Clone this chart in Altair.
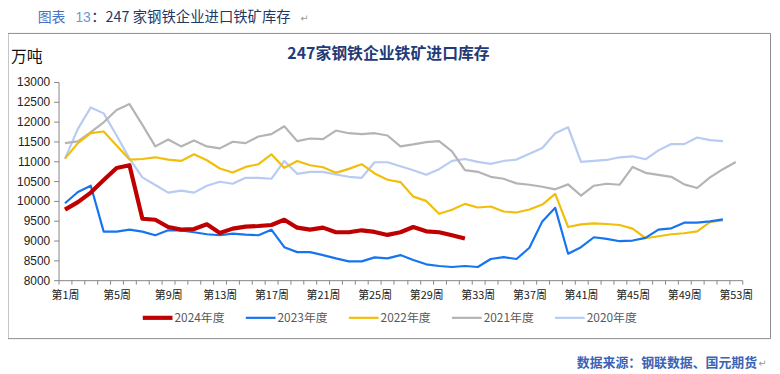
import altair as alt
import pandas as pd

weeks = [f"第{i}周" for i in range(1, 54)]

s2024 = [9780, 9970, 10210, 10525, 10830, 10900, 9550, 9525, 9340, 9275,
         9290, 9410, 9190, 9300, 9350, 9367, 9392, 9525, 9325, 9275,
         9325, 9208, 9208, 9258, 9217, 9142, 9208, 9342, 9233, 9208,
         9133, 9050]

s2023 = [9942, 10225, 10383, 9225, 9225, 9275, 9225, 9133, 9258, 9258,
         9208, 9158, 9133, 9175, 9150, 9133, 9275, 8833, 8708, 8708,
         8633, 8550, 8475, 8475, 8575, 8550, 8633, 8508, 8400, 8358,
         8333, 8358, 8333, 8533, 8583, 8533, 8817, 9483, 9825, 8667,
         8833, 9083, 9042, 8983, 9000, 9067, 9275, 9308, 9450, 9450,
         9483, 9533]

s2022 = [11067, 11458, 11708, 11750, 11400, 11042, 11058, 11100, 11042, 11008,
         11175, 11025, 10817, 10717, 10858, 10925, 11175, 10833, 11008, 10900,
         10850, 10708, 10808, 10925, 10692, 10533, 10475, 10108, 10000, 9675,
         9775, 9925, 9833, 9858, 9733, 9708, 9783, 9908, 10175, 9342,
         9408, 9433, 9417, 9392, 9300, 9058, 9108, 9158, 9183, 9233,
         9467, 9508]

s2021 = [11458, 11500, 11733, 11983, 12292, 12442, 11917, 11375, 11550, 11375,
         11525, 11375, 11325, 11492, 11458, 11625, 11683, 11883, 11508, 11575,
         11558, 11775, 11708, 11683, 11708, 11650, 11375, 11425, 11483, 11508,
         11250, 10775, 10733, 10608, 10558, 10442, 10408, 10358, 10292, 10417,
         10133, 10383, 10433, 10408, 10858, 10708, 10658, 10608, 10417, 10325,
         10592, 10800, 10983]

s2020 = [11067, 11817, 12358, 12208, 11650, 11067, 10592, 10400, 10208, 10258,
         10208, 10383, 10483, 10433, 10583, 10583, 10558, 11008, 10683, 10733,
         10733, 10667, 10608, 10583, 10975, 10975, 10875, 10775, 10658, 10800,
         11008, 11058, 10983, 10933, 11008, 11042, 11192, 11333, 11708, 11858,
         10983, 11008, 11033, 11100, 11125, 11050, 11275, 11433, 11433, 11600,
         11533, 11508]

names = ["2024年度", "2023年度", "2022年度", "2021年度", "2020年度"]
series_values = [s2024, s2023, s2022, s2021, s2020]
colors = ["#C00000", "#1674F0", "#F2BE0A", "#B4B4B4", "#B8CBF2"]
widths = [4.2, 2.2, 2.2, 2.2, 2.2]

rows = []
for name, vals in zip(names, series_values):
    for i, v in enumerate(vals):
        rows.append({"week": weeks[i], "series": name, "value": v})
df = pd.DataFrame(rows)

label_expr = ("(toNumber(replace(replace(datum.value,'第',''),'周',''))-1)%4==0"
              " ? datum.value : ''")

x_enc = alt.X(
    "week:N", sort=weeks,
    scale=alt.Scale(type="band", domain=weeks, paddingInner=0, paddingOuter=0),
    axis=alt.Axis(title=None, labelExpr=label_expr, labelAngle=0, tickBand="extent",
                  tickSize=4, labelPadding=5, labelOverlap=False, labelBound=False,
                  labelFont="Noto Sans CJK SC", labelFontSize=11, labelColor="#222222",
                  domainColor="#868686", tickColor="#868686", grid=False),
)
y_enc = alt.Y(
    "value:Q",
    scale=alt.Scale(domain=[8000, 13000], nice=False, zero=False),
    axis=alt.Axis(title=None, values=list(range(8000, 13001, 500)), format="d",
                  tickSize=5, labelPadding=4, grid=False,
                  labelFont="Liberation Sans", labelFontSize=12, labelColor="#222222",
                  domainColor="#868686", tickColor="#868686"),
)

layers = []
for idx in [4, 3, 2, 1, 0]:
    name = names[idx]
    layers.append(
        alt.Chart(df[df.series == name]).mark_line(
            strokeJoin="round", strokeCap="butt", color=colors[idx], strokeWidth=widths[idx]
        ).encode(x=x_enc, y=y_enc)
    )

# manual legend
leg = pd.DataFrame({"series": names, "col": colors, "sw": widths})
leg["lx"] = [85 + 104 * i for i in range(len(names))]
leg["lx2"] = leg["lx"] + 30
leg["tx"] = leg["lx"] + 32
legend_lines = alt.Chart(leg).mark_rule().encode(
    x=alt.X("lx:Q", scale=None), x2="lx2:Q", y=alt.value(238),
    color=alt.Color("col:N", scale=None),
    strokeWidth=alt.StrokeWidth("sw:Q", scale=None),
)
legend_text = alt.Chart(leg).mark_text(
    align="left", baseline="middle", font="Noto Sans CJK SC", fontSize=12, color="#595959"
).encode(x=alt.X("tx:Q", scale=None), y=alt.value(238), text="series:N")

one = pd.DataFrame({"a": [0]})

box = alt.Chart(one).mark_rect(filled=False, stroke="#8C8C8C", strokeWidth=1).encode(
    x=alt.value(-51), x2=alt.value(718.5), y=alt.value(-49), y2=alt.value(259)
)

def txt(t, x, y, **kw):
    return alt.Chart(pd.DataFrame({"t": [t]})).mark_text(
        align="left", baseline="middle", **kw
    ).encode(x=alt.value(x), y=alt.value(y), text="t:N")

hy = -64.5
head1 = txt("图表", -21, hy, font="Noto Sans CJK SC", fontSize=14, color="#4472C4")
head2 = txt("13", 17, hy, font="Liberation Sans", fontSize=14, color="#6F94D6")
head3 = txt("：247 家钢铁企业进口铁矿库存", 33, hy, font="Noto Sans CJK SC", fontSize=14.5,
            color="#1F3864")
head4 = txt("↵", 244, hy + 1, font="DejaVu Sans", fontSize=10, color="#9A9A9A")

title = alt.Chart(pd.DataFrame({"t": ["247家钢铁企业铁矿进口库存"]})).mark_text(
    align="center", baseline="middle", font="Noto Sans CJK SC", fontSize=16,
    fontWeight="bold", color="#1F3B78"
).encode(x=alt.value(333), y=alt.value(-28), text="t:N")

unit = txt("万吨", -48, -25, font="Noto Sans CJK SC", fontSize=16, color="#111111")

foot = txt("数据来源：钢联数据、国元期货", 523, 284, font="Noto Sans CJK SC", fontSize=13,
           fontWeight="bold", color="#3A63B5")
foot2 = txt("↵", 706, 285, font="DejaVu Sans", fontSize=10, color="#9A9A9A")

chart = alt.layer(
    box, *layers, legend_lines, legend_text, head1, head2, head3, head4, title, unit,
    foot, foot2
).properties(
    width=690, height=200,
    autosize=alt.AutoSizeParams(type="none"),
    padding={"left": 51, "top": 73, "right": 30, "bottom": 91},
).configure_view(stroke=None)

chart.save("out.html", embed_options={"renderer": "svg", "actions": False})
